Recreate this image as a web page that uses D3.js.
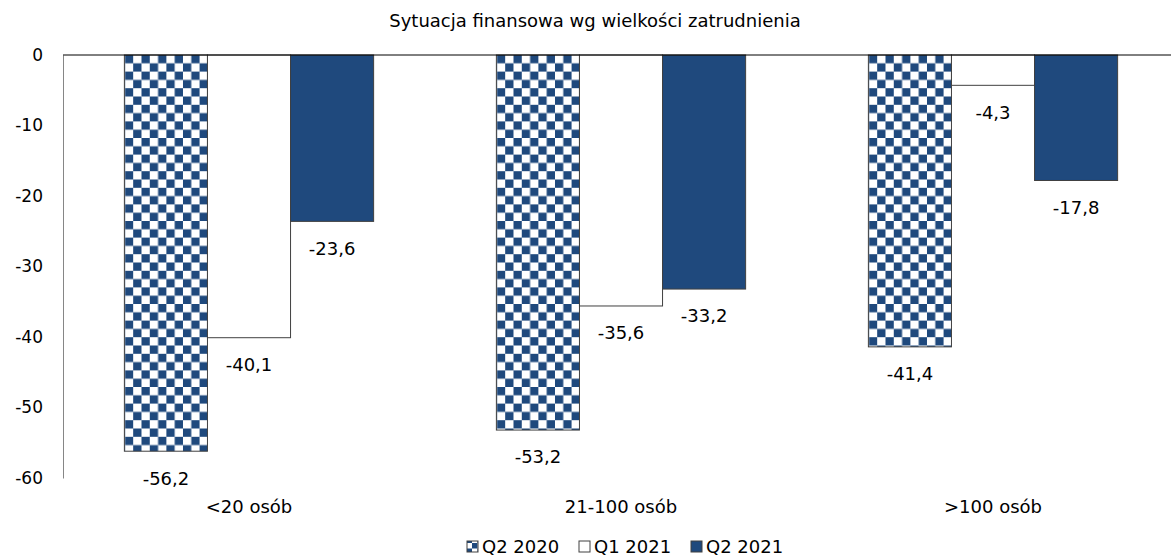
<!DOCTYPE html>
<meta charset="utf-8">
<script src="https://cdnjs.cloudflare.com/ajax/libs/d3/7.8.5/d3.min.js"></script>
<style>
body { margin: 0; background: #fff; }
text { font-family: "DejaVu Sans", sans-serif; fill: #000; }
</style>
<body>
<script>

var categories = ["<20 osób", "21-100 osób", ">100 osób"];
var series = ["Q2 2020", "Q1 2021", "Q2 2021"];
var q2_2020 = [-56.2, -53.2, -41.4];
var q1_2021 = [-40.1, -35.6, -4.3];
var q2_2021 = [-23.6, -33.2, -17.8];
var yTicks = [0, -10, -20, -30, -40, -50, -60];

var values = [q2_2020, q1_2021, q2_2021];

var W = 1171, H = 558;
var svg = d3.select("body").append("svg")
  .attr("width", W)
  .attr("height", H);

// checker pattern
var defs = svg.append("defs");
var pat = defs.append("pattern")
  .attr("id", "checker")
  .attr("patternUnits", "userSpaceOnUse")
  .attr("width", 16.6).attr("height", 16.6)
  .attr("x", 125).attr("y", 55);
pat.append("rect").attr("width", 16.6).attr("height", 16.6).attr("fill", "#fff");
pat.append("rect").attr("x", 8.3).attr("width", 8.3).attr("height", 8.3).attr("fill", "#1f497d");
pat.append("rect").attr("y", 8.3).attr("width", 8.3).attr("height", 8.3).attr("fill", "#1f497d");

var fills = ["url(#checker)", "#fff", "#1f497d"];

var x0 = d3.scaleBand()
  .domain(categories)
  .range([63, 1179]);

var groupW = x0.bandwidth() * 0.67;
var x1 = d3.scaleBand()
  .domain(series)
  .range([0, groupW]);

var y = d3.scaleLinear()
  .domain([-60, 0])
  .range([478, 55]);

// title
svg.append("text")
  .attr("x", 595).attr("y", 27)
  .attr("text-anchor", "middle")
  .style("font-size", "18px")
  .text("Sytuacja finansowa wg wielkości zatrudnienia");

// y axis
var yAxis = svg.append("g")
  .attr("transform", "translate(63,0)")
  .call(d3.axisLeft(y).tickValues(yTicks).tickSize(0).tickPadding(20).tickFormat(function(d) { return String(d); }));
yAxis.select(".domain").attr("stroke", "#868686");
yAxis.selectAll("text").style("font-size", "17px").attr("font-family", null);

// bars
var groups = svg.selectAll(".grp")
  .data(categories)
  .enter().append("g")
  .attr("class", "grp")
  .attr("transform", function(d) { return "translate(" + (x0(d) + (x0.bandwidth() - groupW) / 2) + ",0)"; });

series.forEach(function(s, si) {
  groups.append("rect")
    .attr("x", x1(s))
    .attr("y", y(0))
    .attr("width", x1.bandwidth())
    .attr("height", function(d, i) { return y(values[si][i]) - y(0); })
    .attr("fill", fills[si])
    .attr("stroke", "#404040")
    .attr("stroke-width", 1);

  groups.append("text")
    .attr("x", x1(s) + x1.bandwidth() / 2)
    .attr("y", function(d, i) { return y(values[si][i]) + 27; })
    .attr("dy", "0.35em")
    .attr("text-anchor", "middle")
    .style("font-size", "18px")
    .text(function(d, i) { return String(values[si][i]).replace(".", ","); });
});

// zero line
svg.append("line")
  .attr("x1", 63).attr("x2", 1171)
  .attr("y1", y(0)).attr("y2", y(0))
  .attr("stroke", "#000");

// category labels
svg.selectAll(".cat")
  .data(categories)
  .enter().append("text")
  .attr("class", "cat")
  .attr("x", function(d) { return x0(d) + x0.bandwidth() / 2; })
  .attr("y", 507)
  .attr("dy", "0.35em")
  .attr("text-anchor", "middle")
  .style("font-size", "18px")
  .text(function(d) { return d; });

// legend
var legX = [467, 579, 691];
var leg = svg.selectAll(".leg")
  .data(series)
  .enter().append("g")
  .attr("class", "leg")
  .attr("transform", function(d, i) { return "translate(" + legX[i] + ",541)"; });
var legPat = defs.append("pattern")
  .attr("id", "checkerSmall")
  .attr("patternUnits", "userSpaceOnUse")
  .attr("width", 11).attr("height", 11)
  .attr("x", 467).attr("y", 541);
legPat.append("rect").attr("width", 11).attr("height", 11).attr("fill", "#fff");
legPat.append("rect").attr("width", 5.5).attr("height", 5.5).attr("fill", "#1f497d");
legPat.append("rect").attr("x", 5.5).attr("y", 5.5).attr("width", 5.5).attr("height", 5.5).attr("fill", "#1f497d");
var legFills = ["url(#checkerSmall)", "#fff", "#1f497d"];
leg.append("rect")
  .attr("width", 11).attr("height", 11)
  .attr("fill", function(d, i) { return legFills[i]; })
  .attr("stroke", "#404040");
leg.append("text")
  .attr("x", 15).attr("y", 5.5)
  .attr("dy", "0.35em")
  .style("font-size", "18px")
  .text(function(d) { return d; });

</script>
</body>
</html>
